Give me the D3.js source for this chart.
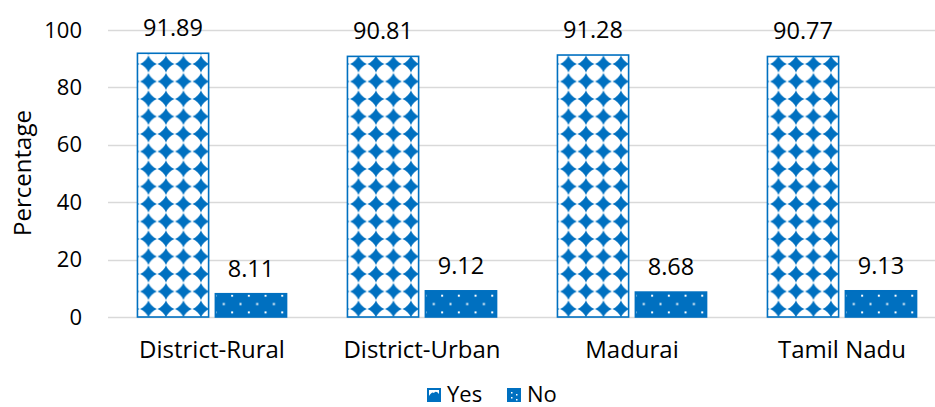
<!DOCTYPE html>
<html>
<head>
<meta charset="utf-8">
<script src="https://cdn.jsdelivr.net/npm/d3@7/dist/d3.min.js"></script>
<style>
html,body{margin:0;padding:0;background:#fff;}
svg{display:block;font-family:"Open Sans",sans-serif;}
</style>
</head>
<body>
<svg id="chart" width="935" height="407"></svg>
<script>
const categories = ["District-Rural", "District-Urban", "Madurai", "Tamil Nadu"];
const seriesNames = ["Yes", "No"];
const yesValues = [91.89, 90.81, 91.28, 90.77];
const noValues = [8.11, 9.12, 8.68, 9.13];
const yTicks = [0, 20, 40, 60, 80, 100];

const blue = "#0070C0";
const W = 935, H = 407;
const svg = d3.select("#chart");
const defs = svg.append("defs");

// Yes pattern: white with blue concave 4-point stars
const s = 17.5;
const pYes = defs.append("pattern").attr("id", "pYes")
  .attr("patternUnits", "userSpaceOnUse").attr("width", s).attr("height", s)
  .attr("x", 151 - s / 2).attr("y", 64 - s / 2);
pYes.append("rect").attr("width", s).attr("height", s).attr("fill", "#fff");
{
  const c = s / 2, h = s * 0.48, k = s * 0.14;
  const d = `M${c},${c - h} Q${c + k},${c - k} ${c + h},${c} Q${c + k},${c + k} ${c},${c + h} Q${c - k},${c + k} ${c - h},${c} Q${c - k},${c - k} ${c},${c - h} Z`;
  pYes.append("path").attr("d", d).attr("fill", blue);
}

// No pattern: blue with small white dots
const t = 16.7;
const pNo = defs.append("pattern").attr("id", "pNo")
  .attr("patternUnits", "userSpaceOnUse").attr("width", t).attr("height", t)
  .attr("x", 228.3 - 1).attr("y", 295.7 - 1);
pNo.append("rect").attr("width", t).attr("height", t).attr("fill", blue);
[[0,0],[t/2,t/2]].forEach(([x, y]) =>
  pNo.append("rect").attr("x", x).attr("y", y).attr("width", 2).attr("height", 2).attr("fill", "#fff"));

const patterns = {Yes: "url(#pYes)", No: "url(#pNo)"};

const y = d3.scaleLinear().domain([0, 100]).range([317, 30]);
const x0 = d3.scaleBand().domain(categories).range([107, 947]).paddingInner(0.29).paddingOuter(0.145);
const x1 = d3.scaleBand().domain(seriesNames).range([0, x0.bandwidth()]).paddingInner(0.087);

// gridlines
const grid = svg.append("g");
grid.selectAll("line").data(yTicks).join("line")
  .attr("x1", 108).attr("x2", W)
  .attr("y1", d => Math.round(y(d)) + 0.5).attr("y2", d => Math.round(y(d)) + 0.5)
  .attr("stroke", "#d9d9d9").attr("stroke-width", 1.3);

// y axis labels
const yAxis = d3.axisLeft(y).tickValues(yTicks).tickSize(0).tickPadding(0);
const ya = svg.append("g").attr("transform", "translate(82,0)").call(yAxis);
ya.select(".domain").remove();
ya.selectAll("text").attr("font-size", 22).attr("fill", "#000").attr("font-family", "Open Sans");

svg.append("text").attr("transform", "translate(31,173) rotate(-90)")
  .attr("text-anchor", "middle").attr("font-size", 24).attr("fill", "#000")
  .text("Percentage");

// bars
const data = categories.map((c, i) => ({cat: c, vals: [{k: "Yes", v: yesValues[i]}, {k: "No", v: noValues[i]}]}));
const groups = svg.append("g").selectAll("g").data(data).join("g")
  .attr("transform", d => `translate(${x0(d.cat)},0)`);
groups.selectAll("rect").data(d => d.vals).join("rect")
  .attr("x", d => x1(d.k)).attr("width", x1.bandwidth())
  .attr("y", d => y(d.v)).attr("height", d => y(0) - y(d.v))
  .attr("fill", d => patterns[d.k])
  .attr("stroke", blue).attr("stroke-width", 1.6);
groups.selectAll("text").data(d => d.vals).join("text")
  .attr("x", d => x1(d.k) + x1.bandwidth() / 2)
  .attr("y", d => y(d.v) - 17)
  .attr("text-anchor", "middle").attr("font-size", 23.5).attr("fill", "#000")
  .text(d => d.v.toFixed(2));

// category axis
const xAxis = d3.axisBottom(x0).tickSize(0).tickPadding(0);
const xa = svg.append("g").attr("transform", "translate(0,358)").call(xAxis);
xa.select(".domain").remove();
xa.selectAll("text").attr("font-size", 24).attr("fill", "#000").attr("y", 0).attr("dy", 0).attr("font-family", "Open Sans");

// legend
const legend = svg.append("g");
const lx = [427, 507];
seriesNames.forEach((n, i) => {
  const g = legend.append("g").attr("transform", `translate(${lx[i]},388)`);
  g.append("rect").attr("width", 14).attr("height", 14).attr("fill", blue);
  if (n === "Yes") {
    g.append("rect").attr("x", 2).attr("y", 2).attr("width", 10).attr("height", 10).attr("fill", "#fff");
    g.append("path").attr("d", "M2,12 L2,8 Q5,3 7,5 Q9,2 12,6 L12,12 Z").attr("fill", blue);
  } else {
    [[4,4],[9,6],[4,9],[9,11]].forEach(([a,b]) => g.append("rect").attr("x", a).attr("y", b).attr("width", 1.5).attr("height", 1.5).attr("fill", "#fff"));
  }
  g.append("text").attr("x", 20).attr("y", 14).attr("font-size", 22).attr("fill", "#000").text(n);
});
</script>
</body>
</html>
